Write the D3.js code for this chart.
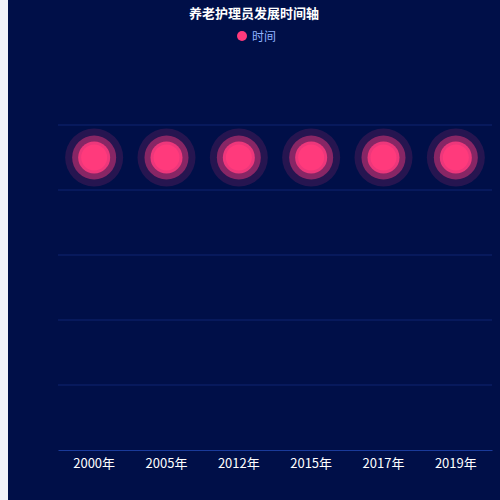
<!DOCTYPE html>
<html><head><meta charset="utf-8">
<script src="https://cdn.jsdelivr.net/npm/d3@7"></script>
<style>body{margin:0;background:#f2f3f8}svg{display:block}</style>
</head><body>
<script>
var years = ['2000年', '2005年', '2012年', '2015年', '2017年', '2019年']
var values = [4.5, 4.5, 4.5, 4.5, 4.5, 4.5]
var yTicks = [0, 1, 2, 3, 4, 5]

var width = 500, height = 500
var plotLeft = 58, plotRight = 492, plotTop = 125, plotBottom = 450

const svg = d3.select("body").append("svg").attr("width", width).attr("height", height)
svg.append("rect").attr("x", 8).attr("width", width - 8).attr("height", height).attr("fill", "#000f48")

var x = d3.scaleBand().domain(years).range([plotLeft, plotRight])
var y = d3.scaleLinear().domain([0, 5]).range([plotBottom, plotTop])

// grid
svg.selectAll(".grid").data(yTicks.slice(1)).enter().append("line")
    .attr("x1", plotLeft).attr("x2", plotRight)
    .attr("y1", d => y(d)).attr("y2", d => y(d))
    .attr("stroke", "#0f2470").attr("stroke-width", 1)

var xAxis = svg.append("g").attr("transform", "translate(0," + plotBottom + ")")
    .call(d3.axisBottom(x).tickSize(0).tickPadding(9))
xAxis.select(".domain").attr("stroke", "#1a3a9a")
xAxis.selectAll("text").attr("fill", "#fff").style("font-size", "13px").style("font-family", "Noto Sans CJK SC")

// ripple points
var pts = svg.selectAll(".pt").data(values).enter().append("g")
    .attr("transform", (d, i) => "translate(" + (x(years[i]) + x.bandwidth() / 2) + "," + y(d) + ")")
pts.append("circle").attr("r", 29).attr("fill", "#ff3b7f").attr("opacity", 0.15)
pts.append("circle").attr("r", 22).attr("fill", "#ff3b7f").attr("opacity", 0.45)
pts.append("circle").attr("r", 16).attr("fill", "#ff3b7f").attr("opacity", 0.85)
pts.append("circle").attr("r", 13).attr("fill", "#ff3a7c")

svg.append("text").attr("x", 254).attr("y", 18).attr("text-anchor", "middle")
    .attr("fill", "#fff").style("font-size", "13px").style("font-weight", "bold")
    .style("font-family", "Noto Sans CJK SC").text("养老护理员发展时间轴")

svg.append("circle").attr("cx", 242).attr("cy", 36).attr("r", 5).attr("fill", "#ff3a7c")
svg.append("text").attr("x", 252).attr("y", 40.5).attr("fill", "#8fb4ff")
    .style("font-size", "12px").style("font-family", "Noto Sans CJK SC").text("时间")
</script>
</body></html>
